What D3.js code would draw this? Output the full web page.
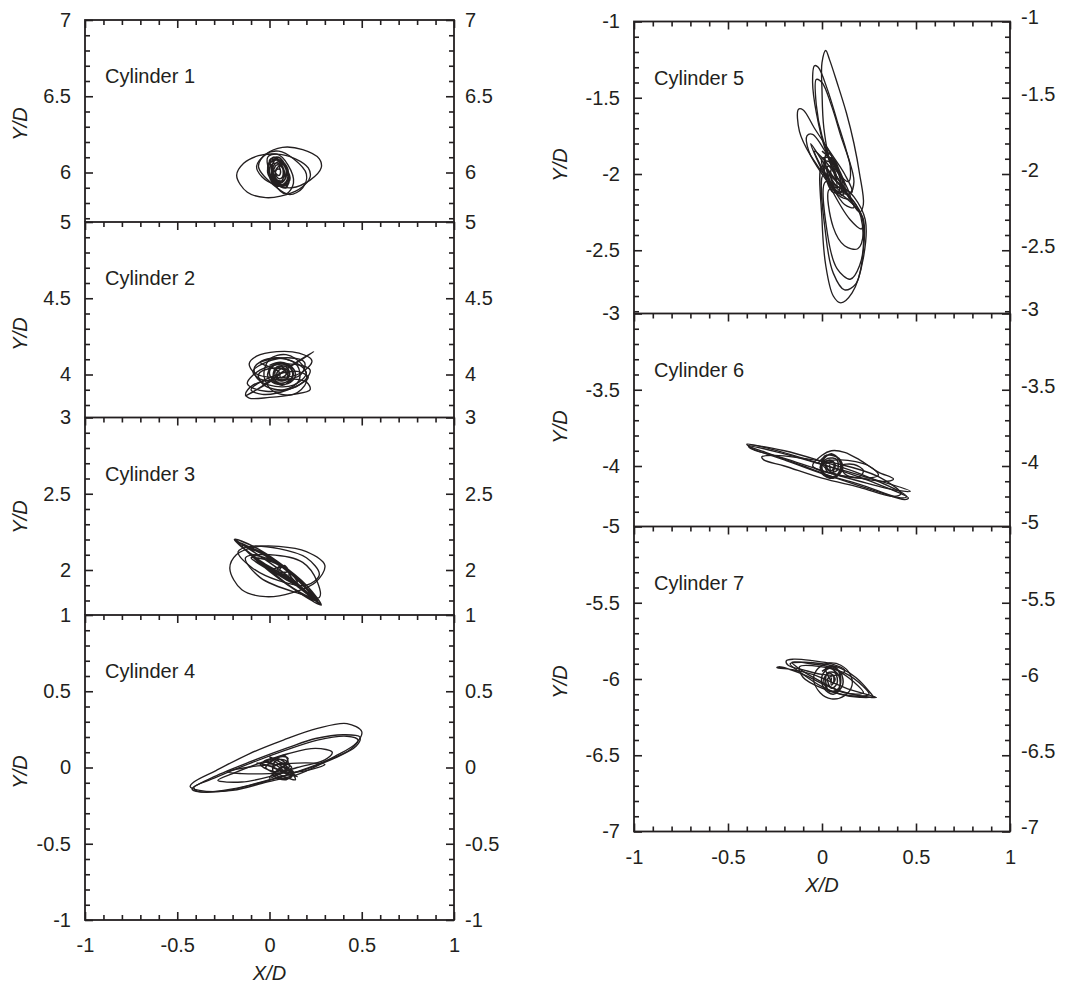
<!DOCTYPE html>
<html>
<head>
<meta charset="utf-8">
<script src="https://cdn.jsdelivr.net/npm/d3@7"></script>
<style>
  body { margin: 0; background: #fff; }
  svg { display: block; }
</style>
</head>
<body>
<svg id="chart" width="1071" height="985"></svg>
<script>
// ---- Panel names and vertical centres (Y/D of each cylinder's rest position) ----
const cylinderNames = ["Cylinder 1", "Cylinder 2", "Cylinder 3", "Cylinder 4",
                       "Cylinder 5", "Cylinder 6", "Cylinder 7"];
const yCentres = [6, 4, 2, 0, -2, -4, -6];

// ---- Tick labels ----
const xTickLabels = ["-1", "-0.5", "0", "0.5", "1"];
const yTickLabels = [
  ["5", "5.5", "6", "6.5", "7"],
  ["3", "3.5", "4", "4.5", "5"],
  ["1", "1.5", "2", "2.5", "3"],
  ["-1", "-0.5", "0", "0.5", "1"],
  ["-3", "-2.5", "-2", "-1.5", "-1"],
  ["-5", "-4.5", "-4", "-3.5", "-3"],
  ["-7", "-6.5", "-6", "-5.5", "-5"]
];
const axisLabelX = "X/D";
const axisLabelY = "Y/D";

// ---- Cylinder trajectories: closed orbits [X/D, Y/D] and the dense core path ----
const cyl1Loops = [
  [[-0.178,5.98],[-0.14,6.06],[-0.06,6.11],[0.04,6.12],[0.14,6.09],[0.21,6.03],[0.22,5.97],[0.16,5.89],[0.06,5.845],[-0.02,5.835],[-0.12,5.87]],
  [[-0.07,6.04],[-0.02,6.12],[0.07,6.165],[0.18,6.15],[0.27,6.09],[0.28,6.03],[0.22,5.95],[0.12,5.9],[0.03,5.92],[-0.04,5.97]],
  [[-0.06,6.04],[-0.02,6.12],[0.05,6.14],[0.13,6.09],[0.2,5.99],[0.18,5.9],[0.11,5.855],[0.04,5.9]],
  [[-0.01,6.1],[0.04,6.12],[0.1,6.05],[0.13,5.93],[0.09,5.86],[0.03,5.92]]
];
const cyl1Core = [[0.01,6.09],[0.06,6.07],[0.1,5.99],[0.1,5.92],[0.05,5.92],[0.0,5.99],[0.0,6.06],[0.04,6.09],[0.09,6.03],[0.11,5.95],[0.07,5.91],[0.02,5.95],[-0.01,6.03],[0.02,6.1],[0.07,6.06],[0.1,5.97],[0.08,5.92],[0.03,5.94],[0.01,6.01],[0.03,6.08],[0.08,6.05],[0.09,5.97],[0.06,5.93],[0.02,5.97],[0.02,6.04],[0.05,6.07],[0.08,6.01],[0.08,5.95],[0.04,5.95],[0.02,6.0],[0.04,6.05],[0.07,6.03],[0.07,5.97],[0.05,5.96],[0.03,6.0],[0.05,6.04],[0.06,6.0],[0.05,5.98],[0.0,6.08],[0.05,6.1],[0.1,6.0],[0.09,5.9],[0.03,5.93],[-0.01,6.0],[0.01,6.07],[0.06,6.08],[0.1,6.02],[0.09,5.94],[0.04,5.91],[0.0,5.97],[0.01,6.05],[0.05,6.06],[0.08,5.99],[0.06,5.94],[0.03,5.97],[0.04,6.02],[0.06,6.02]];

const cyl2Loops = [
  [[-0.11,4.07],[-0.07,4.12],[0.04,4.15],[0.16,4.14],[0.23,4.09],[0.17,4.01],[0.03,3.98],[-0.08,4.01]],
  [[-0.13,3.87],[-0.11,3.845],[0.0,3.85],[0.13,3.87],[0.22,3.9],[0.2,3.95],[0.06,3.97],[-0.09,3.93]],
  [[-0.13,3.86],[0.0,3.95],[0.12,4.06],[0.24,4.15],[0.19,4.11],[0.06,4.01],[-0.07,3.9]],
  [[0.0,4.1],[0.09,4.13],[0.18,4.06],[0.2,3.95],[0.13,3.87],[0.02,3.89],[-0.03,3.99]],
  [[-0.08,4.05],[0.0,4.1],[0.12,4.09],[0.2,4.01],[0.13,3.93],[0.0,3.93],[-0.07,3.98]],
  [[-0.12,3.94],[-0.05,4.03],[0.1,4.07],[0.22,4.03],[0.16,3.93],[-0.02,3.89]],
  [[-0.1,3.9],[0.0,3.98],[0.15,4.02],[0.21,3.98],[0.1,3.9],[-0.04,3.87]],
  [[-0.09,4.02],[-0.02,4.08],[0.1,4.11],[0.19,4.08],[0.17,4.0],[0.06,3.96],[-0.05,3.97]]
];
const cyl2Core = [[0.0,4.06],[0.06,4.08],[0.12,4.05],[0.14,3.99],[0.1,3.94],[0.03,3.94],[-0.01,3.99],[0.01,4.05],[0.07,4.07],[0.12,4.03],[0.12,3.97],[0.07,3.93],[0.02,3.96],[0.0,4.02],[0.04,4.07],[0.1,4.06],[0.13,4.0],[0.09,3.95],[0.04,3.95],[0.02,4.0],[0.04,4.05],[0.09,4.05],[0.11,4.0],[0.08,3.96],[0.04,3.97],[0.03,4.02],[0.06,4.05],[0.1,4.02],[0.09,3.97],[0.05,3.97],[0.04,4.01],[0.07,4.04],[0.09,4.0],[0.06,3.98],[0.05,4.02],[-0.05,4.08],[0.05,4.11],[0.15,4.06],[0.16,3.96],[0.08,3.9],[-0.03,3.93],[-0.06,4.0],[0.0,4.04],[0.08,4.03],[0.1,3.98],[0.06,3.96]];

const cyl3Loops = [
  [[-0.215,2.01],[-0.18,2.1],[-0.08,2.15],[0.05,2.155],[0.2,2.12],[0.3,2.03],[0.25,1.92],[0.12,1.85],[-0.02,1.825],[-0.15,1.87]],
  [[-0.17,2.12],[-0.1,2.155],[0.05,2.14],[0.2,2.08],[0.27,1.97],[0.2,1.9],[0.05,1.93],[-0.1,2.02]],
  [[-0.13,2.08],[0.0,2.1],[0.18,2.05],[0.26,1.92],[0.27,1.82],[0.15,1.85],[-0.05,1.95]]
];
const cyl3Core = [[-0.19,2.2],[-0.05,2.09],[0.1,1.96],[0.28,1.77],[0.12,1.92],[-0.02,2.03],[-0.19,2.2],[-0.08,2.15],[0.05,2.05],[0.2,1.9],[0.28,1.77],[0.15,1.86],[0.0,1.99],[-0.12,2.12],[-0.15,2.16],[0.0,2.08],[0.12,1.98],[0.22,1.85],[0.1,1.93],[-0.02,2.02],[-0.1,2.1],[0.02,2.06],[0.1,2.0],[0.15,1.92],[0.06,1.97],[0.02,2.0],[0.08,2.02],[0.12,1.95],[0.25,1.8],[0.1,1.9],[-0.05,2.05],[-0.17,2.18],[-0.03,2.1],[0.12,1.97],[0.27,1.78],[0.1,1.95],[-0.05,2.06],[-0.16,2.17],[-0.02,2.1],[0.13,1.96],[0.26,1.8],[0.13,1.88],[0.02,1.98],[-0.1,2.08],[0.0,2.06],[0.1,1.99],[0.05,1.99],[0.08,2.03],[0.11,1.97],[0.04,1.98],[0.06,2.04]];

const cyl4Loops = [
  [[-0.43,-0.125],[-0.41,-0.095],[-0.29,-0.02],[-0.11,0.09],[0.075,0.18],[0.26,0.256],[0.42,0.288],[0.5,0.235],[0.47,0.16],[0.35,0.07],[0.165,-0.04],[-0.015,-0.095],[-0.2,-0.15],[-0.38,-0.15]],
  [[-0.42,-0.14],[-0.3,-0.06],[-0.1,0.04],[0.1,0.13],[0.25,0.19],[0.4,0.215],[0.49,0.2],[0.47,0.14],[0.35,0.06],[0.2,-0.01],[0.0,-0.08],[-0.2,-0.14],[-0.38,-0.16]],
  [[-0.41,-0.13],[-0.3,-0.07],[-0.12,0.02],[0.08,0.11],[0.26,0.18],[0.42,0.205],[0.48,0.18],[0.44,0.12],[0.3,0.04],[0.12,-0.04],[-0.08,-0.11],[-0.25,-0.155],[-0.39,-0.155]],
  [[-0.28,-0.085],[-0.2,-0.04],[-0.05,0.03],[0.1,0.09],[0.25,0.125],[0.34,0.1],[0.3,0.05],[0.15,0.0],[0.0,-0.06],[-0.15,-0.095]],
  [[-0.23,-0.03],[-0.1,0.005],[0.05,0.02],[0.2,0.03],[0.3,0.02],[0.2,-0.02],[0.0,-0.04],[-0.15,-0.04]]
];
const cyl4Core = [[-0.07,0.03],[0.0,0.01],[0.08,-0.03],[0.15,-0.06],[0.1,-0.02],[0.04,0.03],[0.0,0.07],[0.05,0.04],[0.1,0.0],[0.14,-0.08],[0.06,-0.05],[0.0,-0.02],[-0.05,0.02],[0.02,0.05],[0.08,0.08],[0.1,0.03],[0.04,-0.02],[0.0,-0.07],[0.06,-0.04],[0.12,0.0],[0.07,0.03],[0.02,0.0],[0.06,-0.02],[0.1,-0.05],[0.03,0.02],[-0.03,0.04],[0.04,0.06],[0.09,0.02],[0.05,-0.01],[0.12,-0.06],[0.07,-0.07],[0.02,-0.03],[0.03,0.04],[0.08,0.05],[0.11,0.01],[0.05,-0.03],[-0.02,0.0],[0.06,0.07],[0.1,0.06],[0.07,0.0],[0.02,-0.05],[0.09,-0.08],[0.13,-0.03],[0.06,0.01]];

const cyl5Loops = [
  [[0.02,-1.19],[0.04,-1.25],[0.08,-1.4],[0.13,-1.6],[0.17,-1.8],[0.2,-2.0],[0.22,-2.2],[0.2,-2.25],[0.12,-2.1],[0.05,-1.95],[0.01,-1.7],[0.0,-1.45],[0.0,-1.27]],
  [[-0.04,-1.29],[-0.02,-1.3],[0.03,-1.45],[0.08,-1.65],[0.13,-1.85],[0.17,-2.05],[0.15,-2.12],[0.08,-2.02],[0.02,-1.85],[-0.03,-1.6],[-0.05,-1.4]],
  [[-0.03,-1.38],[0.0,-1.4],[0.05,-1.55],[0.1,-1.75],[0.15,-1.95],[0.14,-2.05],[0.06,-1.95],[0.0,-1.75],[-0.03,-1.55]],
  [[-0.125,-1.575],[-0.1,-1.58],[-0.04,-1.7],[0.04,-1.85],[0.12,-2.0],[0.16,-2.12],[0.12,-2.13],[0.03,-2.03],[-0.06,-1.88],[-0.12,-1.72]],
  [[0.0,-1.95],[0.0,-2.3],[0.02,-2.6],[0.06,-2.8],[0.1,-2.845],[0.16,-2.78],[0.22,-2.55],[0.23,-2.3],[0.17,-2.15],[0.08,-2.05]],
  [[0.01,-2.0],[0.02,-2.4],[0.06,-2.65],[0.12,-2.76],[0.18,-2.72],[0.22,-2.5],[0.22,-2.3],[0.15,-2.15]],
  [[0.02,-2.05],[0.03,-2.4],[0.08,-2.62],[0.15,-2.69],[0.2,-2.6],[0.22,-2.4],[0.18,-2.2]],
  [[0.04,-2.1],[0.06,-2.35],[0.12,-2.47],[0.19,-2.49],[0.22,-2.38],[0.2,-2.25]],
  [[-0.06,-1.8],[0.05,-2.1],[0.15,-2.3],[0.21,-2.36],[0.22,-2.3],[0.14,-2.15],[0.02,-1.95]],
  [[-0.04,-1.85],[0.04,-2.05],[0.12,-2.2],[0.17,-2.22],[0.12,-2.1],[0.02,-1.92]],
  [[-0.08,-1.75],[-0.05,-1.74],[0.04,-1.9],[0.13,-2.08],[0.15,-2.16],[0.1,-2.15],[0.0,-2.0],[-0.07,-1.85]]
];
const cyl5Core = [[0.0,-1.85],[0.08,-1.95],[0.12,-2.1],[0.06,-2.12],[0.01,-1.95],[0.03,-1.86],[0.1,-2.0],[0.11,-2.14],[0.04,-2.05],[0.0,-1.9],[0.06,-1.9],[0.1,-2.05],[0.08,-2.13],[0.03,-2.0],[0.02,-1.88],[0.07,-1.95],[0.1,-2.08],[0.05,-2.08],[0.03,-1.95],[0.06,-1.96],[0.08,-2.04],[0.02,-1.82],[0.05,-1.88],[0.09,-2.0],[0.1,-2.12],[0.07,-2.1],[0.04,-2.0],[0.01,-1.92],[0.04,-1.92],[0.07,-2.02],[0.08,-2.08],[0.05,-2.03],[0.05,-1.97],[0.07,-1.99]];

const cyl6Loops = [
  [[-0.4,-3.857],[-0.3,-3.88],[-0.1,-3.95],[0.1,-4.03],[0.3,-4.12],[0.46,-4.21],[0.44,-4.22],[0.3,-4.17],[0.1,-4.09],[-0.1,-4.0],[-0.3,-3.91],[-0.39,-3.87]],
  [[-0.39,-3.87],[-0.2,-3.92],[0.0,-3.99],[0.2,-4.06],[0.47,-4.165],[0.4,-4.16],[0.2,-4.1],[0.0,-4.03],[-0.2,-3.95],[-0.38,-3.885]],
  [[-0.32,-3.94],[-0.25,-3.93],[-0.1,-3.95],[0.1,-3.99],[0.3,-4.07],[0.42,-4.18],[0.38,-4.2],[0.2,-4.14],[0.0,-4.08],[-0.2,-4.0],[-0.31,-3.96]],
  [[-0.39,-3.865],[-0.2,-3.9],[0.0,-3.97],[0.2,-4.05],[0.45,-4.2],[0.42,-4.21],[0.2,-4.12],[0.0,-4.05],[-0.2,-3.96],[-0.38,-3.88]],
  [[-0.05,-4.0],[0.0,-3.93],[0.05,-3.9],[0.12,-3.91],[0.2,-3.96],[0.3,-4.04],[0.38,-4.085],[0.35,-4.1],[0.2,-4.08],[0.05,-4.05]],
  [[0.0,-3.98],[0.1,-3.96],[0.25,-4.0],[0.3,-4.06],[0.2,-4.08],[0.05,-4.04]],
  [[0.1,-4.0],[0.17,-3.99],[0.22,-4.03],[0.2,-4.07],[0.13,-4.06]]
];
const cyl6Core = [[-0.02,-3.98],[0.03,-3.93],[0.09,-3.95],[0.11,-4.02],[0.06,-4.08],[0.0,-4.05],[0.0,-3.97],[0.05,-3.92],[0.1,-3.98],[0.09,-4.05],[0.03,-4.07],[-0.01,-4.01],[0.03,-3.95],[0.08,-3.96],[0.08,-4.03],[0.03,-4.04],[0.02,-3.99],[0.06,-3.97],[0.06,-4.02],[0.04,-4.03],[0.01,-3.94],[0.07,-3.93],[0.1,-4.0],[0.07,-4.07],[0.02,-4.06],[0.0,-4.0],[0.04,-3.96],[0.07,-3.99],[0.05,-4.05],[0.04,-3.99]];

const cyl7Loops = [
  [[-0.24,-5.925],[-0.15,-5.94],[-0.05,-5.97],[0.05,-6.02],[0.15,-6.07],[0.29,-6.12],[0.2,-6.11],[0.1,-6.08],[0.0,-6.03],[-0.1,-5.97],[-0.23,-5.92]],
  [[-0.19,-5.88],[-0.15,-5.87],[-0.05,-5.88],[0.05,-5.9],[0.12,-5.94],[0.1,-5.97],[0.0,-5.97],[-0.1,-5.94],[-0.18,-5.91]],
  [[-0.17,-5.9],[-0.1,-5.89],[0.0,-5.9],[0.1,-5.93],[0.18,-5.99],[0.25,-6.08],[0.27,-6.115],[0.2,-6.12],[0.1,-6.1],[0.0,-6.05],[-0.1,-5.97]],
  [[-0.045,-6.0],[-0.02,-5.93],[0.04,-5.895],[0.1,-5.91],[0.15,-5.97],[0.16,-6.04],[0.12,-6.11],[0.05,-6.13],[-0.01,-6.09]],
  [[-0.12,-5.92],[0.0,-5.92],[0.12,-5.96],[0.22,-6.05],[0.25,-6.1],[0.15,-6.11],[0.0,-6.06],[-0.1,-5.99]],
  [[-0.16,-5.89],[-0.06,-5.9],[0.06,-5.93],[0.17,-6.02],[0.22,-6.09],[0.12,-6.09],[0.0,-6.02],[-0.1,-5.95]]
];
const cyl7Core = [[0.0,-5.95],[0.05,-5.92],[0.1,-5.96],[0.11,-6.04],[0.06,-6.1],[0.01,-6.06],[0.0,-5.98],[0.04,-5.93],[0.09,-5.98],[0.09,-6.06],[0.04,-6.08],[0.02,-6.02],[0.03,-5.96],[0.07,-5.96],[0.08,-6.03],[0.05,-6.06],[0.03,-6.0],[0.06,-5.98],[0.06,-6.03],[0.02,-5.93],[0.07,-5.92],[0.1,-6.0],[0.08,-6.08],[0.03,-6.07],[0.01,-6.0],[0.04,-5.96],[0.07,-6.0],[0.05,-6.04],[0.05,-5.99]];

const trajectoryLoops = [cyl1Loops, cyl2Loops, cyl3Loops, cyl4Loops, cyl5Loops, cyl6Loops, cyl7Loops];
const trajectoryCores = [cyl1Core, cyl2Core, cyl3Core, cyl4Core, cyl5Core, cyl6Core, cyl7Core];

// ---- Layout ----
const INK = "#231f20";
const FONT = "'Liberation Sans', Arial, Helvetica, sans-serif";
const PANEL_H = 305;
const columns = [
  { x0: 85,  x1: 454,  bgX: 0,   bgW: 540, yLabelX: 19.5, rightLabelShift: 0 },
  { x0: 634, x1: 1010, bgX: 540, bgW: 531, yLabelX: 560,  rightLabelShift: -4 }
];
const panelLayout = [
  { col: 0, top: 20,    yLabelY: 124 },
  { col: 0, top: 222,   yLabelY: 334 },
  { col: 0, top: 417.5, yLabelY: 517 },
  { col: 0, top: 615,   yLabelY: 772, bottom: true },
  { col: 1, top: 21.5,  yLabelY: 165 },
  { col: 1, top: 313.5, yLabelY: 427 },
  { col: 1, top: 526.5, yLabelY: 682, bottom: true }
];

const svg = d3.select("#chart");
svg.append("rect").attr("width", 1071).attr("height", 985).attr("fill", "#fff");

const loopLine = d3.line().curve(d3.curveCatmullRomClosed.alpha(0.5));
const coreLine = d3.line().curve(d3.curveCatmullRom.alpha(0.5));

function styleAxis(sel, shiftText) {
  sel.attr("font-size", 20).attr("font-family", FONT).attr("color", INK);
  sel.select(".domain").remove();
  sel.selectAll(".tick line").attr("stroke-width", 1.6);
  sel.selectAll(".tick text").attr("fill", INK);
  if (shiftText) sel.selectAll(".tick text").attr("y", shiftText);
}

function minorTicks(lo, hi) {
  return d3.range(0, Math.round((hi - lo) / 0.1) + 1)
    .map(k => +(lo + k * 0.1).toFixed(2))
    .filter(v => Math.abs(v * 2 - Math.round(v * 2)) > 1e-6);
}

panelLayout.forEach((L, i) => {
  const C = columns[L.col];
  const c = yCentres[i];
  const x = d3.scaleLinear().domain([-1, 1]).range([C.x0, C.x1]);
  const y = d3.scaleLinear().domain([c - 1, c + 1]).range([L.top + PANEL_H, L.top]);
  // the next panel in the column overlaps this one from its top edge down
  const next = panelLayout[i + 1];
  const overlapped = next && next.col === L.col;
  const shown = v => !overlapped || y(v) < next.top - 1;

  const g = svg.append("g");
  g.append("rect")
    .attr("x", C.bgX).attr("y", L.top)
    .attr("width", C.bgW).attr("height", PANEL_H)
    .attr("fill", "#fff");

  const yMajorAll = yTickLabels[i].map(Number);
  const yMajor = yMajorAll.filter(shown);
  const yMinor = minorTicks(c - 1, c + 1).filter(shown);
  const xMajor = xTickLabels.map(Number);
  const xMinor = minorTicks(-1, 1);
  const yFmt = d => yTickLabels[i][yMajorAll.indexOf(d)];

  // trajectory
  const tg = g.append("g")
    .attr("fill", "none").attr("stroke", INK)
    .attr("stroke-width", 1.35).attr("stroke-linejoin", "round");
  const toPx = pts => pts.map(p => [x(p[0]), y(p[1])]);
  trajectoryLoops[i].forEach(loop => tg.append("path").attr("d", loopLine(toPx(loop))));
  tg.append("path").attr("d", coreLine(toPx(trajectoryCores[i]))).attr("stroke-width", 1.5);

  // left axis
  g.append("g").attr("transform", `translate(${C.x0},0)`)
    .call(d3.axisLeft(y).tickValues(yMajor).tickSize(-8).tickPadding(14).tickFormat(yFmt))
    .call(s => styleAxis(s));
  g.append("g").attr("transform", `translate(${C.x0},0)`)
    .call(d3.axisLeft(y).tickValues(yMinor).tickSize(-5).tickFormat(""))
    .call(s => styleAxis(s));

  // right axis
  g.append("g").attr("transform", `translate(${C.x1},0)`)
    .call(d3.axisRight(y).tickValues(yMajor).tickSize(-8).tickPadding(11).tickFormat(yFmt))
    .call(s => styleAxis(s, C.rightLabelShift));
  g.append("g").attr("transform", `translate(${C.x1},0)`)
    .call(d3.axisRight(y).tickValues(yMinor).tickSize(-5).tickFormat(""))
    .call(s => styleAxis(s));

  // top axis (ticks only)
  g.append("g").attr("transform", `translate(0,${L.top})`)
    .call(d3.axisTop(x).tickValues(xMajor).tickSize(-8).tickFormat(""))
    .call(s => styleAxis(s));
  g.append("g").attr("transform", `translate(0,${L.top})`)
    .call(d3.axisTop(x).tickValues(xMinor).tickSize(-5).tickFormat(""))
    .call(s => styleAxis(s));

  if (L.bottom) {
    const yb = L.top + PANEL_H;
    g.append("g").attr("transform", `translate(0,${yb})`)
      .call(d3.axisBottom(x).tickValues(xMajor).tickSize(-8).tickPadding(18)
        .tickFormat((d, k) => xTickLabels[k]))
      .call(s => styleAxis(s));
    g.append("g").attr("transform", `translate(0,${yb})`)
      .call(d3.axisBottom(x).tickValues(xMinor).tickSize(-5).tickFormat(""))
      .call(s => styleAxis(s));
    g.append("text")
      .attr("x", (C.x0 + C.x1) / 2).attr("y", yb + 53)
      .attr("dy", "0.35em").attr("text-anchor", "middle")
      .attr("font-family", FONT).attr("font-size", 20).attr("font-style", "italic")
      .attr("fill", INK).text(axisLabelX);
  }

  // frame
  g.append("rect")
    .attr("x", C.x0).attr("y", L.top)
    .attr("width", C.x1 - C.x0).attr("height", PANEL_H)
    .attr("fill", "none").attr("stroke", INK).attr("stroke-width", 1.8);

  // panel title
  g.append("text")
    .attr("x", C.x0 + 20).attr("y", L.top + 63)
    .attr("font-family", FONT).attr("font-size", 20).attr("fill", INK)
    .text(cylinderNames[i]);

  // Y/D label
  g.append("text")
    .attr("transform", `translate(${C.yLabelX},${L.yLabelY}) rotate(-90)`)
    .attr("dy", "0.35em").attr("text-anchor", "middle")
    .attr("font-family", FONT).attr("font-size", 20).attr("font-style", "italic")
    .attr("fill", INK).text(axisLabelY);
});
</script>
</body>
</html>
